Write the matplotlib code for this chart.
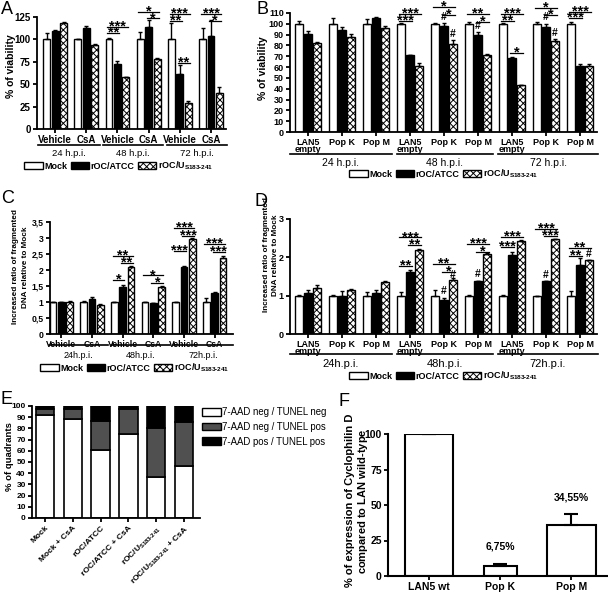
import matplotlib
matplotlib.use('Agg')
import matplotlib.pyplot as plt
from matplotlib.patches import Patch
from matplotlib.lines import Line2D
import numpy as np

# Basic setup

W, H = 608, 596
FONT = ['Liberation Sans', 'DejaVu Sans']
HATCH = 'xxxxx'

plt.rcParams['font.family'] = FONT
plt.rcParams['mathtext.fontset'] = 'custom'
plt.rcParams['mathtext.rm'] = 'Liberation Sans:bold'
plt.rcParams['mathtext.it'] = 'Liberation Sans:italic:bold'
plt.rcParams['mathtext.bf'] = 'Liberation Sans:bold'
plt.rcParams['mathtext.default'] = 'rm'
plt.rcParams['hatch.linewidth'] = 0.7
plt.rcParams['axes.linewidth'] = 1.3

U_LABEL = 'rOC/U$_{S183\u2010241}$'

# Data

# panel A: % viability
a_groups = ['Vehicle', 'CsA', 'Vehicle', 'CsA', 'Vehicle', 'CsA']
a_hpi = ['24 h.p.i.', '48 h.p.i.', '72 h.p.i.']
a_mock = [100, 100, 100, 100, 100, 100]
a_mock_err = [7, 1, 1.5, 8, 18, 13]
a_atcc = [109, 113, 72, 114, 61, 104]
a_atcc_err = [2, 2, 4, 8, 10, 18]
a_u = [118, 94, 58, 78, 29, 40]
a_u_err = [1, 0.5, 0.5, 1, 2, 7]

# panel B: % viability, cell populations
b_groups = ['LAN5\nempty', 'Pop K', 'Pop M'] * 3
b_hpi = ['24 h.p.i.', '48 h.p.i.', '72 h.p.i.']
b_mock = [100, 100, 100, 100, 100, 100, 100, 100, 100]
b_mock_err = [3, 5.5, 4, 1, 0.5, 2, 0.5, 2, 2]
b_atcc = [91, 94.5, 105.5, 71, 98, 90, 68.5, 97, 61]
b_atcc_err = [2.5, 3, 0.5, 0.5, 3, 2, 0.5, 3, 2]
b_u = [82, 88, 96, 61, 81, 71.5, 43, 84, 61]
b_u_err = [1, 3, 2, 3, 4, 1, 0.5, 2, 2]

# panel C: fragmented DNA
c_groups = ['Vehicle', 'CsA', 'Vehicle', 'CsA', 'Vehicle', 'CsA']
c_hpi = ['24h.p.i.', '48h.p.i.', '72h.p.i.']
c_mock = [1, 1, 1, 1, 1, 1]
c_mock_err = [0, 0.02, 0, 0, 0, 0.12]
c_atcc = [1, 1.08, 1.48, 0.98, 2.1, 1.28]
c_atcc_err = [0, 0.07, 0.06, 0, 0.03, 0.04]
c_u = [1.01, 0.92, 2.1, 1.46, 2.98, 2.39]
c_u_err = [0.02, 0.03, 0.02, 0.03, 0.02, 0.04]

# panel D: fragmented DNA, cell populations
d_groups = ['LAN5\nempty', 'Pop K', 'Pop M'] * 3
d_hpi = ['24h.p.i.', '48h.p.i.', '72h.p.i.']
d_mock = [1, 1, 1, 1, 1, 1, 1, 1, 1]
d_mock_err = [0.03, 0.02, 0.1, 0.1, 0.15, 0.03, 0.03, 0, 0.13]
d_atcc = [1.08, 0.98, 1.06, 1.63, 0.88, 1.37, 2.07, 1.37, 1.79]
d_atcc_err = [0.06, 0.15, 0.1, 0.03, 0.06, 0.02, 0.08, 0.02, 0.2]
d_u = [1.21, 1.16, 1.35, 2.2, 1.42, 2.09, 2.42, 2.47, 1.92]
d_u_err = [0.08, 0.01, 0.04, 0.03, 0.04, 0.02, 0.02, 0.02, 0.02]

# panel E: quadrant percentages
e_labels = ['Mock', 'Mock + CsA', 'rOC/ATCC', 'rOC/ATCC + CsA',
            U_LABEL, U_LABEL + ' + CsA']
e_neg_neg = [92, 88, 61, 75, 37, 46]
e_neg_pos = [5, 9, 26, 22, 43, 40]
e_pos_pos = [3, 3, 13, 3, 20, 14]
e_series = ['7-AAD neg / TUNEL neg', '7-AAD neg / TUNEL pos', '7-AAD pos / TUNEL pos']

# panel F: Cyclophilin D expression
f_labels = ['LAN5 wt', 'Pop K', 'Pop M']
f_values = [100, 7, 36]
f_err = [0, 1.5, 7.5]
f_text = ['', '6,75%', '34,55%']
f_text_y = [0, 20.5, 55]

# significance marks: (group, bar from, bar to, height, stars)
a_sig = [(2, 0, 2, 114, '***'), (2, 0, 1, 107, '**'), (3, 0, 2, 131, '*'),
         (3, 1, 2, 123.5, '*'), (4, 0, 2, 128, '***'), (4, 0, 1, 121, '**'),
         (4, 1, 2, 74, '**'), (5, 0, 2, 128, '***'), (5, 1, 2, 121, '*')]
b_sig = [(3, 0, 2, 109, '***'), (3, 0, 1, 103, '***'),
         (4, 0, 2, 115.5, '*'), (4, 1, 2, 108.5, '*'),
         (5, 0, 2, 109, '**'), (5, 1, 2, 101.5, '*'),
         (6, 0, 2, 109, '***'), (6, 0, 1, 102.5, '**'), (6, 1, 2, 73, '*'),
         (7, 0, 2, 115, '*'), (7, 1, 2, 108, '*'),
         (8, 0, 2, 111, '***'), (8, 0, 1, 105.5, '***')]
b_hash = [(4, 1, 102), (4, 2, 86), (5, 1, 93), (7, 1, 102), (7, 2, 87)]
c_sig = [(2, 0, 2, 2.45, '**'), (2, 1, 2, 2.22, '**'), (2, 0, 1, 1.68, '*'),
         (3, 0, 2, 1.83, '*'), (3, 1, 2, 1.6, '*'),
         (4, 0, 2, 3.31, '***'), (4, 1, 2, 3.07, '***'), (4, 0, 1, 2.6, '***'),
         (5, 0, 2, 2.81, '***'), (5, 1, 2, 2.56, '***')]
d_sig = [(3, 0, 2, 2.52, '***'), (3, 1, 2, 2.33, '**'), (3, 0, 1, 1.78, '**'),
         (4, 0, 2, 1.83, '**'), (4, 1, 2, 1.63, '*'),
         (5, 0, 2, 2.34, '***'), (5, 1, 2, 2.15, '*'),
         (6, 0, 2, 2.53, '***'), (6, 0, 1, 2.28, '***'),
         (7, 0, 2, 2.75, '***'), (7, 1, 2, 2.56, '***'),
         (8, 0, 2, 2.24, '**'), (8, 0, 1, 2.04, '**')]
d_hash = [(4, 1, 0.98), (4, 2, 1.42), (5, 1, 1.43), (7, 1, 1.42), (8, 2, 1.96)]


# Plotting functions

def add_axes(fig, left, top, right, bottom):
    return fig.add_axes([left / W, 1 - bottom / H, (right - left) / W, (bottom - top) / H])


def style_axes(ax, size=6.5):
    ax.spines['top'].set_visible(False)
    ax.spines['right'].set_visible(False)
    ax.tick_params(direction='out', length=3, width=1.3, labelsize=size, pad=1.5)
    for lab in ax.get_yticklabels():
        lab.set_fontweight('bold')


def grouped_bars(ax, series, off, width):
    x = np.arange(len(series[0][0]))
    styles = [('white', None), ('black', None), ('white', HATCH)]
    for k, ((vals, errs), (fc, hatch)) in enumerate(zip(series, styles)):
        ax.bar(x + (k - 1) * off, vals, width, color=fc, edgecolor='black', hatch=hatch,
               linewidth=1.0, yerr=[np.zeros(len(errs)), errs], capsize=1.6,
               error_kw=dict(elinewidth=1.0, capthick=1.0, ecolor='black'))
    return x


def add_sig(ax, marks, off, size=10.5):
    for g, i, j, y, stars in marks:
        x0 = g + (i - 1) * off - 0.06
        x1 = g + (j - 1) * off + 0.06
        ax.plot([x0, x1], [y, y], color='black', lw=0.9, clip_on=False)
        ax.annotate(stars, ((x0 + x1) / 2, y), xytext=(0, -0.25 * size), textcoords='offset points',
                    ha='center', va='baseline', fontsize=size, fontweight='bold',
                    annotation_clip=False)


def add_hash(ax, marks, off):
    for g, i, y in marks:
        ax.text(g + (i - 1) * off, y, '#', ha='center', va='bottom', fontsize=7.5,
                fontweight='bold', clip_on=False)


def hpi_brackets(fig, spans, line_y, text_y, labels, size=7.5):
    for (x0, x1), lab in zip(spans, labels):
        fig.add_artist(Line2D([x0 / W, x1 / W], [1 - line_y / H] * 2, color='black', lw=1.2))
        fig.text((x0 + x1) / 2 / W, 1 - text_y / H, lab, ha='center', va='center', fontsize=size)


def bar_legend(fig, cx, cy):
    handles = [Patch(facecolor='white', edgecolor='black', lw=1.0),
               Patch(facecolor='black', edgecolor='black', lw=1.0),
               Patch(facecolor='white', edgecolor='black', hatch=HATCH, lw=1.0)]
    fig.legend(handles, ['Mock', 'rOC/ATCC', U_LABEL], loc='center',
               bbox_to_anchor=(cx / W, 1 - cy / H), ncol=3, frameon=False,
               prop=dict(size=6.5, weight='bold'), handlelength=2.0, handleheight=0.8,
               handletextpad=0.2, columnspacing=0.4, borderpad=0, borderaxespad=0)


def panel_letter(fig, x, y, letter):
    fig.text(x / W, 1 - y / H, letter, fontsize=13, ha='left', va='center')


fig = plt.figure(figsize=(W / 100, H / 100), dpi=100)

# ---- A ----
ax = add_axes(fig, 37, 17, 226, 129)
x = grouped_bars(ax, [(a_mock, a_mock_err), (a_atcc, a_atcc_err), (a_u, a_u_err)], 0.27, 0.22)
ax.set_xlim(-0.58, 5.48)
ax.set_ylim(0, 125)
ax.set_yticks([0, 25, 50, 75, 100, 125])
ax.set_xticks(x)
ax.set_xticklabels(a_groups, fontsize=7.5, fontweight='bold')
style_axes(ax, 7)
ax.set_ylabel('% of viability', fontsize=7.5, fontweight='bold')
ax.yaxis.set_label_coords(-0.111, 0.56)
add_sig(ax, a_sig, 0.27)
hpi_brackets(fig, [(38, 100), (103, 163), (167, 227)], 144.5, 153.5, a_hpi, 6.8)
bar_legend(fig, 119, 166)
panel_letter(fig, 1, 9, 'A')

# ---- B ----
ax = add_axes(fig, 290, 13, 597, 132)
x = grouped_bars(ax, [(b_mock, b_mock_err), (b_atcc, b_atcc_err), (b_u, b_u_err)], 0.27, 0.22)
ax.set_xlim(-0.53, 8.5)
ax.set_ylim(0, 110)
ax.set_yticks(range(0, 111, 10))
ax.set_xticks(x)
ax.set_xticklabels(b_groups, fontsize=8, fontweight='bold', linespacing=0.72)
style_axes(ax, 6.5)
ax.set_ylabel('% of viability', fontsize=7.5, fontweight='bold')
ax.yaxis.set_label_coords(-0.072, 0.54)
add_sig(ax, b_sig, 0.27)
add_hash(ax, b_hash, 0.27)
hpi_brackets(fig, [(290, 392), (397, 493), (498, 598)], 153.5, 162.5, b_hpi)
bar_legend(fig, 444, 174)
panel_letter(fig, 257, 9, 'B')

# ---- C ----
ax = add_axes(fig, 50, 222, 233, 334)
x = grouped_bars(ax, [(c_mock, c_mock_err), (c_atcc, c_atcc_err), (c_u, c_u_err)], 0.27, 0.22)
ax.set_xlim(-0.37, 5.6)
ax.set_ylim(0, 3.5)
ax.set_yticks(np.arange(0, 3.6, 0.5))
ax.set_yticklabels(['0', '0,5', '1', '1,5', '2', '2,5', '3', '3,5'])
ax.set_xticks(x)
ax.set_xticklabels(c_groups, fontsize=7.3, fontweight='bold')
style_axes(ax, 6.2)
ax.set_ylabel('Increased ratio of fragmented\nDNA relative to Mock', fontsize=5.9,
              fontweight='bold', linespacing=1.5)
ax.yaxis.set_label_coords(-0.115, 0.6)
add_sig(ax, c_sig, 0.27)
hpi_brackets(fig, [(49, 108), (111, 170), (173, 233)], 345, 356, c_hpi, 6.5)
bar_legend(fig, 135, 368)
panel_letter(fig, 1, 199, 'C')

# ---- D ----
ax = add_axes(fig, 290, 219, 597, 334)
x = grouped_bars(ax, [(d_mock, d_mock_err), (d_atcc, d_atcc_err), (d_u, d_u_err)], 0.27, 0.22)
ax.set_xlim(-0.53, 8.5)
ax.set_ylim(0, 3)
ax.set_yticks([0, 1, 2, 3])
ax.set_xticks(x)
ax.set_xticklabels(d_groups, fontsize=8, fontweight='bold', linespacing=0.72)
style_axes(ax, 6.5)
ax.set_ylabel('Increased ratio of fragmented\nDNA relative to Mock', fontsize=5.9,
              fontweight='bold', linespacing=1.5)
ax.yaxis.set_label_coords(-0.035, 0.687)
add_sig(ax, d_sig, 0.27)
add_hash(ax, d_hash, 0.27)
hpi_brackets(fig, [(290, 392), (397, 493), (498, 598)], 354, 364, d_hpi, 8)
bar_legend(fig, 444, 376)
panel_letter(fig, 254, 202, 'D')

# ---- E ----
ax = add_axes(fig, 32, 406, 200, 518)
x = np.arange(len(e_labels))
bottom = np.zeros(len(x))
for vals, fc in zip([e_neg_neg, e_neg_pos, e_pos_pos], ['white', '#505050', 'black']):
    ax.bar(x, vals, 0.66, bottom=bottom, color=fc, edgecolor='black', linewidth=1.2)
    bottom = bottom + np.array(vals)
ax.set_xlim(-0.47, 5.58)
ax.set_ylim(0, 100)
ax.set_yticks(range(0, 101, 10))
ax.set_xticks(x)
ax.set_xticklabels(e_labels, rotation=45, ha='right', rotation_mode='anchor',
                   fontsize=5.8, fontweight='bold')
style_axes(ax, 6.0)
ax.set_ylabel('% of quadrants', fontsize=6.8, fontweight='bold')
ax.yaxis.set_label_coords(-0.107, 0.545)
e_handles = [Patch(facecolor=fc, edgecolor='black', lw=1.0) for fc in ['white', '#505050', 'black']]
fig.legend(e_handles, e_series, loc='upper left', bbox_to_anchor=(202 / W, 1 - 407 / H),
           frameon=False, fontsize=6.9, handlelength=2.0, handleheight=0.9,
           labelspacing=0.5, handletextpad=0.1, borderpad=0, borderaxespad=0)
panel_letter(fig, 0, 400, 'E')

# ---- F ----
ax = add_axes(fig, 388, 434, 607, 576)
x = np.arange(len(f_labels))
ax.bar(x, f_values, [0.68, 0.46, 0.68], color='white', edgecolor='black', linewidth=1.5,
       yerr=[np.zeros(len(f_err)), f_err], capsize=5,
       error_kw=dict(elinewidth=1.5, capthick=1.5, ecolor='black'))
for xi, lab, ty in zip(x, f_text, f_text_y):
    ax.text(xi, ty, lab, ha='center', va='center', fontsize=7.5, fontweight='bold')
ax.set_xlim(-0.58, 2.5)
ax.set_ylim(0, 100)
ax.set_yticks([0, 25, 50, 75, 100])
ax.set_xticks(x)
ax.set_xticklabels(f_labels, fontsize=8, fontweight='bold')
style_axes(ax, 7.5)
ax.spines['left'].set_linewidth(1.5)
ax.spines['bottom'].set_linewidth(1.5)
ax.set_ylabel('% of expression of Cyclophilin D\ncompared to LAN $wild$-$type$',
              fontsize=8, fontweight='bold', linespacing=1.1)
ax.yaxis.set_label_coords(-0.082, 0.53)
panel_letter(fig, 338, 401, 'F')

fig.savefig('out.png', dpi=100)
